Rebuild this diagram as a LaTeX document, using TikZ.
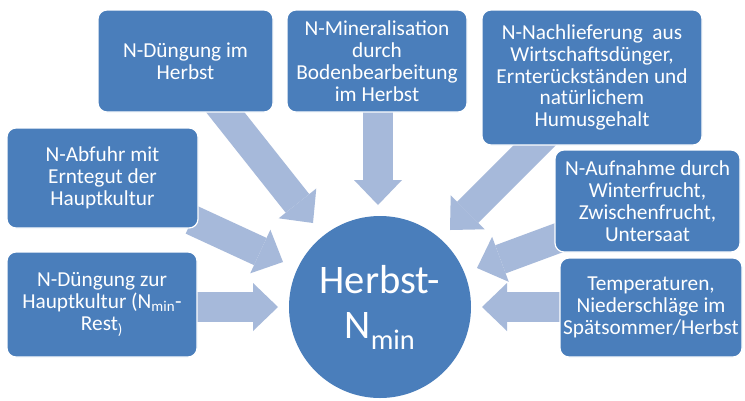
\documentclass[tikz,border=0pt]{standalone}
\usepackage{fontspec}
\setmainfont{Carlito}
\usetikzlibrary{arrows.meta,backgrounds}
\definecolor{boxblue}{HTML}{4A7EBB}
\definecolor{arrowblue}{HTML}{A6B9DA}
\begin{document}
\begin{tikzpicture}[x=1pt,y=-1pt,
  box/.style={draw=white, line width=1.2pt, fill=boxblue, rounded corners=9pt,
    text=white, align=center, inner sep=0pt,
    font=\fontsize{21.3}{21.9}\selectfont},
  hub/.style={circle, fill=boxblue, text=white, align=center, inner sep=0pt,
    minimum size=182pt, font=\fontsize{40.5}{45}\selectfont},
  flow/.style={draw=arrowblue, line width=30pt,
    -{Triangle[width=48pt,length=25pt,line width=0pt]}}]
\useasboundingbox (0,0) rectangle (745,400);

\node[box, minimum width=175pt, minimum height=102pt] (b1) at (185.5,61)
  {N-Düngung im\\Herbst};
\node[box, minimum width=180pt, minimum height=102pt] (b2) at (377,61)
  {N-Mineralisation\\durch\\Bodenbearbeitung\\im Herbst};
\node[box, minimum width=220pt, minimum height=135pt] (b3) at (592,77.5)
  {N-Nachlieferung\ \ aus\\Wirtschaftsdünger,\\Ernterückständen und\\natürlichem\\Humusgehalt};
\node[box, minimum width=185pt, minimum height=102pt] (b4) at (647.5,201)
  {N-Aufnahme durch\\Winterfrucht,\\Zwischenfrucht,\\Untersaat};
\node[box, minimum width=182pt, minimum height=99pt] (b5) at (651,307.5)
  {Temperaturen,\\Niederschläge im\\Spätsommer/Herbst};
\node[box, minimum width=191pt, minimum height=100pt] (b6) at (102.5,178)
  {N-Abfuhr mit\\Erntegut der\\Hauptkultur};
\node[box, minimum width=190pt, minimum height=105pt] (b7) at (102,304.5)
  {N-Düngung zur\\Hauptkultur (N\textsubscript{min}-\\Rest\textsubscript{)}};
\node[hub] (hub) at (380,307) {Herbst-\\N\textsubscript{min}};

% arrow ends
\coordinate (s1) at (215.7,100.2); \coordinate (t1) at (313,223);
\coordinate (s2) at (378,100);     \coordinate (t2) at (378,205);
\coordinate (s3) at (552.7,127.3); \coordinate (t3) at (450,230);
\coordinate (s4) at (564,235.8);   \coordinate (t4) at (477,268);
\coordinate (s5) at (570,307);     \coordinate (t5) at (482,307);
\coordinate (s6) at (192,220);     \coordinate (t6) at (283,262);
\coordinate (s7) at (190,307);     \coordinate (t7) at (278,307);

\begin{scope}[on background layer]
  \fill[white] (0,0) rectangle (745,400);
  \draw[flow] (s1) -- (t1);
  \draw[flow] (s2) -- (t2);
  \draw[flow] (s3) -- (t3);
  \draw[flow] (s4) -- (t4);
  \draw[flow] (s5) -- (t5);
  \draw[flow] (s6) -- (t6);
  \draw[flow] (s7) -- (t7);
\end{scope}
\end{tikzpicture}
\end{document}
